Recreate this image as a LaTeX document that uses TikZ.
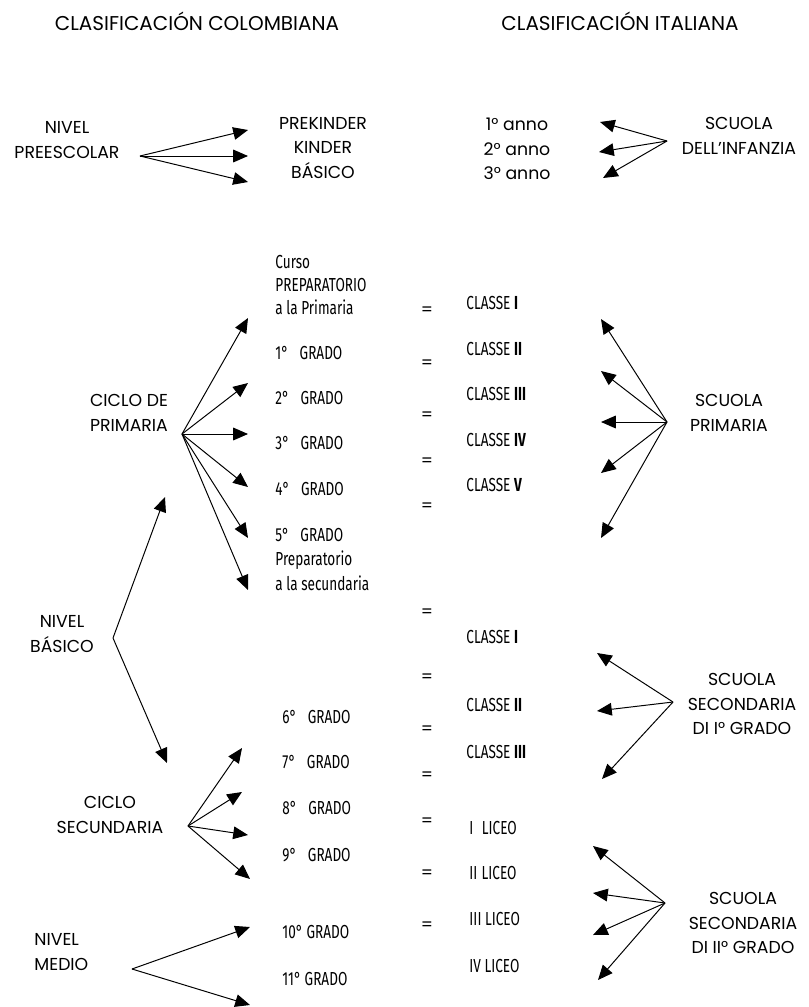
\documentclass[tikz,border=0pt]{standalone}
\usepackage{fontspec}
\setmainfont{Poppins}
\newfontfamily\condfont[FakeStretch=0.72]{Fira Sans}
\usetikzlibrary{arrows.meta}

\tikzset{
  title/.style={inner sep=0pt, font=\fontsize{14.2}{17}\selectfont},
  level/.style={align=center, inner sep=0pt, font=\fontsize{12.3}{17.6}\selectfont},
  grade/.style={anchor=west, inner sep=0pt, font=\condfont\fontsize{13.4}{16.5}\selectfont},
  equal/.style={inner sep=0pt, font=\fontsize{12}{14}\selectfont},
}

\begin{document}
\begin{tikzpicture}[->, >={Triangle[length=10.5pt, width=9pt]}, line width=0.7pt, x=0.025cm, y=-0.025cm]
    \useasboundingbox (0,0) rectangle (809,1007);

    % headings
    \node[title] (col) at (197,21) {CLASIFICACIÓN COLOMBIANA};
    \node[title] (ita) at (620,21) {CLASIFICACIÓN ITALIANA};

    % preescolar / infanzia
    \node[level] (pre) at (67,140) {NIVEL\\PREESCOLAR};
    \node[level] (kin) at (323,148) {PREKINDER\\KINDER\\BÁSICO};
    \node[level] (ann) at (517,149) {1° anno\\2° anno\\3° anno};
    \node[level] (inf) at (739,136) {SCUOLA\\DELL’INFANZIA};

    % primaria
    \node[level] (cpr) at (129,413) {CICLO DE\\PRIMARIA};
    \node[grade, align=left] (cur) at (275,285) {Curso\\PREPARATORIO\\a la Primaria};
    \node[grade] (g1) at (275,353) {1°\hspace{8pt}GRADO};
    \node[grade] (g2) at (275,398) {2°\hspace{8pt}GRADO};
    \node[grade] (g3) at (275,443) {3°\hspace{8pt}GRADO};
    \node[grade] (g4) at (275,489) {4°\hspace{8pt}GRADO};
    \node[grade] (g5) at (275,535) {5°\hspace{8pt}GRADO};
    \node[grade, align=left, font=\condfont\fontsize{13.4}{17.8}\selectfont] (prs) at (275,571) {Preparatorio\\a la secundaria};

    \node[equal] (e1) at (427,311) {=};
    \node[equal] (e2) at (427,364) {=};
    \node[equal] (e3) at (427,416) {=};
    \node[equal] (e4) at (427,462) {=};
    \node[equal] (e5) at (427,507) {=};

    \node[grade] (c1) at (466,303) {CLASSE \textbf{I}};
    \node[grade] (c2) at (466,349) {CLASSE \textbf{II}};
    \node[grade] (c3) at (466,394) {CLASSE \textbf{III}};
    \node[grade] (c4) at (466,440) {CLASSE \textbf{IV}};
    \node[grade] (c5) at (466,485) {CLASSE \textbf{V}};
    \node[level] (spr) at (729,413) {SCUOLA\\PRIMARIA};

    % basico / secundaria
    \node[level] (bas) at (62,634) {NIVEL\\BÁSICO};
    \node[level] (csec) at (110,815) {CICLO\\SECUNDARIA};
    \node[grade] (g6) at (282,717) {6°\hspace{8pt}GRADO};
    \node[grade] (g7) at (282,762) {7°\hspace{8pt}GRADO};
    \node[grade] (g8) at (282,808) {8°\hspace{8pt}GRADO};
    \node[grade] (g9) at (282,855) {9°\hspace{8pt}GRADO};

    \node[equal] (e6) at (427,613) {=};
    \node[equal] (e7) at (427,678) {=};
    \node[equal] (e8) at (427,730) {=};
    \node[equal] (e9) at (427,776) {=};
    \node[equal] (e10) at (427,822) {=};
    \node[equal] (e11) at (427,874) {=};
    \node[equal] (e12) at (427,926) {=};

    \node[grade] (s1) at (466,637) {CLASSE \textbf{I}};
    \node[grade] (s2) at (466,705) {CLASSE \textbf{II}};
    \node[grade] (s3) at (466,752) {CLASSE \textbf{III}};
    \node[level] (ssi) at (742,704) {SCUOLA\\SECONDARIA\\DI I° GRADO};

    % medio / liceo
    \node[level, align=left, anchor=west] (med) at (34,952) {NIVEL\\MEDIO};
    \node[grade] (g10) at (282,932) {10° GRADO};
    \node[grade] (g11) at (282,979) {11° GRADO};
    \node[grade] (l1) at (469,828) {I\hspace{6pt}LICEO};
    \node[grade] (l2) at (469,873) {II\hspace{3pt}LICEO};
    \node[grade] (l3) at (469,919) {III LICEO};
    \node[grade] (l4) at (469,966) {IV LICEO};
    \node[level] (ssii) at (743,923) {SCUOLA\\SECONDARIA\\DI II° GRADO};

    % arrow ends
    \coordinate (preO) at (140,156);
    \coordinate (k1) at (248,130);
    \coordinate (k2) at (248,156);
    \coordinate (k3) at (248,182);
    \coordinate (infO) at (667,141);
    \coordinate (a1) at (600,122);
    \coordinate (a2) at (599,152);
    \coordinate (a3) at (603,178);

    \coordinate (cprO) at (182,434);
    \coordinate (p1) at (248,318);
    \coordinate (p2) at (248,383);
    \coordinate (p3) at (248,434);
    \coordinate (p4) at (248,487);
    \coordinate (p5) at (248,538);
    \coordinate (p6) at (248,590);
    \coordinate (sprO) at (667,422);
    \coordinate (q1) at (601,319);
    \coordinate (q2) at (601,371);
    \coordinate (q3) at (601,422);
    \coordinate (q4) at (601,473);
    \coordinate (q5) at (601,538);

    \coordinate (basO) at (113,638);
    \coordinate (b1) at (165,497);
    \coordinate (b2) at (167,763);
    \coordinate (csecO) at (188,826);
    \coordinate (d1) at (242,748);
    \coordinate (d2) at (242,792);
    \coordinate (d3) at (248,835);
    \coordinate (d4) at (250,879);
    \coordinate (ssiO) at (673,702);
    \coordinate (t1) at (597,653);
    \coordinate (t2) at (597,711);
    \coordinate (t3) at (602,779);

    \coordinate (medO) at (132,969);
    \coordinate (m1) at (250,927);
    \coordinate (m2) at (250,1005);
    \coordinate (ssiiO) at (665,903);
    \coordinate (u1) at (593,846);
    \coordinate (u2) at (593,893);
    \coordinate (u3) at (593,935);
    \coordinate (u4) at (598,980);

    \path (preO) edge (k1) edge (k2) edge (k3);
    \path (infO) edge (a1) edge (a2) edge (a3);
    \path (cprO) edge (p1) edge (p2) edge (p3) edge (p4) edge (p5) edge (p6);
    \path (sprO) edge (q1) edge (q2) edge (q3) edge (q4) edge (q5);
    \path (basO) edge (b1) edge (b2);
    \path (csecO) edge (d1) edge (d2) edge (d3) edge (d4);
    \path (ssiO) edge (t1) edge (t2) edge (t3);
    \path (medO) edge (m1) edge (m2);
    \path (ssiiO) edge (u1) edge (u2) edge (u3) edge (u4);
\end{tikzpicture}
\end{document}
